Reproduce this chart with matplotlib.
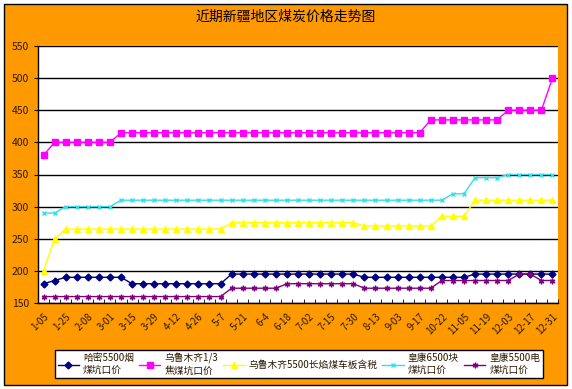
import matplotlib
matplotlib.use("Agg")
import matplotlib.pyplot as plt
from matplotlib.patches import Rectangle
from matplotlib.transforms import ScaledTranslation

plt.rcParams['font.family'] = ['Noto Sans CJK SC', 'DejaVu Sans']

TITLE = "近期新疆地区煤炭价格走势图"

# tick labels, shown on every second week
tick_labels = ["1-05", "1-25", "2-08", "3-01", "3-15", "3-29", "4-12", "4-26",
               "5-7", "5-21", "6-4", "6-18", "7-02", "7-15", "7-30", "8-13",
               "9-03", "9-17", "10-22", "11-05", "11-19", "12-03", "12-17", "12-31"]

series_names = [
    "哈密5500烟\n煤坑口价",
    "乌鲁木齐1/3\n焦煤坑口价",
    "乌鲁木齐5500长焰煤车板含税",
    "皇康6500块\n煤坑口价",
    "皇康5500电\n煤坑口价",
]

hami = [180, 185, 190, 190, 190, 190, 190, 190, 180, 180,
        180, 180, 180, 180, 180, 180, 180, 195, 195, 195,
        195, 195, 195, 195, 195, 195, 195, 195, 195, 190,
        190, 190, 190, 190, 190, 190, 190, 190, 190, 195,
        195, 195, 195, 195, 195, 195, 195]

wlmq_jiao = [380, 400, 400, 400, 400, 400, 400, 415, 415, 415,
             415, 415, 415, 415, 415, 415, 415, 415, 415, 415,
             415, 415, 415, 415, 415, 415, 415, 415, 415, 415,
             415, 415, 415, 415, 415, 435, 435, 435, 435, 435,
             435, 435, 450, 450, 450, 450, 500]

wlmq_5500 = [200, 250, 265, 265, 265, 265, 265, 265, 265, 265,
             265, 265, 265, 265, 265, 265, 265, 275, 275, 275,
             275, 275, 275, 275, 275, 275, 275, 275, 275, 270,
             270, 270, 270, 270, 270, 270, 285, 285, 285, 310,
             310, 310, 310, 310, 310, 310, 310]

hk_6500 = [290, 290, 300, 300, 300, 300, 300, 310, 310, 310,
           310, 310, 310, 310, 310, 310, 310, 310, 310, 310,
           310, 310, 310, 310, 310, 310, 310, 310, 310, 310,
           310, 310, 310, 310, 310, 310, 310, 320, 320, 345,
           345, 345, 350, 350, 350, 350, 350]

hk_5500 = [160, 160, 160, 160, 160, 160, 160, 160, 160, 160,
           160, 160, 160, 160, 160, 160, 160, 173, 173, 173,
           173, 173, 180, 180, 180, 180, 180, 180, 180, 173,
           173, 173, 173, 173, 173, 173, 185, 185, 185, 185,
           185, 185, 185, 195, 195, 185, 185]

STYLES = [
    dict(color="#000080", marker="D", ms=3.5),
    dict(color="#FF00FF", marker="s", ms=4),
    dict(color="#FFFF00", marker="^", ms=4.5),
    dict(color="#33E0E8", marker="x", ms=3.5),
    dict(color="#800080", marker=(6, 2, 0), ms=4),
]

W, H = 572, 389
fig = plt.figure(figsize=(W / 100, H / 100), dpi=100)
fig.patch.set_facecolor("white")

# orange chart background with black frame, in its own axes behind the plot
bg = fig.add_axes([0, 0, 1, 1], zorder=-1)
bg.axis("off")
bg.set_xlim(0, W)
bg.set_ylim(H, 0)
bg.add_patch(Rectangle((4, 4), 563, 381, facecolor="#FF9900",
                       edgecolor="black", linewidth=1))

ax = fig.add_axes([38 / W, 1 - 303 / H, 520 / W, 257 / H], zorder=1)
ax.set_facecolor("white")

data = [hami, wlmq_jiao, wlmq_5500, hk_6500, hk_5500]
x = list(range(len(hami)))
for vals, name, st in zip(data, series_names, STYLES):
    ax.plot(x, vals, color=st["color"], lw=1, marker=st["marker"],
            markersize=st["ms"], markerfacecolor=st["color"],
            markeredgecolor=st["color"], markeredgewidth=1, label=name,
            clip_on=False, zorder=3)

ax.set_ylim(150, 550)
ax.set_yticks(range(150, 551, 50))
ax.set_xlim(-0.5, len(hami) - 0.5)
ax.grid(axis="y", color="black", linewidth=1)
ax.set_axisbelow(True)

ax.set_xticks(range(0, len(hami), 2))
ax.set_xticklabels(tick_labels, rotation=45, ha="right", rotation_mode="anchor",
                   fontsize=7, color="#2a1a00")
# excel puts the rotated labels a bit lower and to the left
shift = ScaledTranslation(-5 / 100, -4 / 100, fig.dpi_scale_trans)
for lab in ax.get_xticklabels():
    lab.set_transform(lab.get_transform() + shift)
ax.set_xticks([i - 0.5 for i in range(len(hami) + 1)], minor=True)
ax.tick_params(axis="x", which="major", length=0, pad=6)
ax.tick_params(axis="x", which="minor", direction="in", length=3, color="black")
ax.tick_params(axis="y", labelsize=7.5, color="black", labelcolor="#2a1a00",
               length=3, direction="out")

for s in ["top", "right"]:
    ax.spines[s].set_visible(False)
ax.spines["left"].set_linewidth(1)
ax.spines["bottom"].set_linewidth(1)

fig.text(0.5, 1 - 17 / H, TITLE, ha="center", va="center", fontsize=10, zorder=2)

leg = fig.legend(loc="center", ncol=5, mode="expand",
                 bbox_to_anchor=(50 / W, 1 - 381 / H, 498 / W, 34 / H),
                 fontsize=7, frameon=True, fancybox=False, framealpha=1,
                 handlelength=2.2, handletextpad=0.4, columnspacing=0.6,
                 borderpad=0.3)
leg.set_zorder(2)
leg.get_frame().set_edgecolor("black")
leg.get_frame().set_facecolor("white")
leg.get_frame().set_linewidth(1)
for t in leg.get_texts():
    t.set_color("#2a1a00")

fig.savefig("out.png", dpi=100, facecolor=fig.get_facecolor())
